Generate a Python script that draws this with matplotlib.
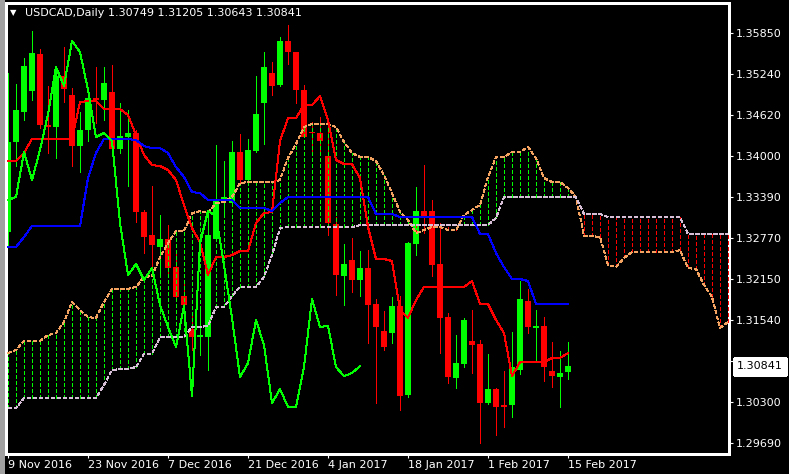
import matplotlib
matplotlib.use("Agg")
import matplotlib.pyplot as plt
import matplotlib.transforms as mtransforms
from matplotlib.patches import Rectangle
from matplotlib.lines import Line2D

# USDCAD daily bars, 9 Nov 2016 .. 15 Feb 2017 (one entry per trading day)
opens = [1.32860, 1.34214, 1.34666, 1.34982, 1.35538, 1.34470, 1.34440, 1.35207, 1.34922, 1.34154,
         1.34395, 1.34876, 1.34846, 1.34967, 1.34109, 1.34290, 1.34350, 1.33161, 1.32815, 1.32634,
         1.32755, 1.32333, 1.31897, 1.31401, 1.31280, 1.31280, 1.32755, 1.33341, 1.33296, 1.34064,
         1.33642, 1.34079, 1.34801, 1.35253, 1.35072, 1.35734, 1.35569, 1.34997, 1.34365, 1.34350,
         1.34004, 1.32980, 1.32198, 1.32439, 1.32138, 1.32318, 1.31777, 1.31371, 1.31340, 1.31747,
         1.30407, 1.32679, 1.33176, 1.33176, 1.32378, 1.31581, 1.30663, 1.30874, 1.31220, 1.31175,
         1.30287, 1.30498, 1.30257, 1.30257, 1.30783, 1.31822, 1.31416, 1.31446, 1.30768, 1.30678,
         1.30749]
highs = [1.35253, 1.35087, 1.35478, 1.35885, 1.35614, 1.35057, 1.35328, 1.35644, 1.35027, 1.34666,
         1.34952, 1.35343, 1.35343, 1.35373, 1.34801, 1.34696, 1.34395, 1.33191, 1.33552, 1.33116,
         1.32965, 1.32544, 1.32108, 1.31611, 1.31686, 1.33161, 1.34169, 1.33928, 1.34229, 1.34335,
         1.34260, 1.35207, 1.35569, 1.35418, 1.35794, 1.35975, 1.35569, 1.35072, 1.34515, 1.34590,
         1.34560, 1.33086, 1.32679, 1.32770, 1.32574, 1.32589, 1.31852, 1.31671, 1.31882, 1.31897,
         1.32709, 1.33537, 1.33868, 1.33341, 1.32995, 1.31641, 1.31310, 1.31566, 1.31686, 1.31235,
         1.31024, 1.30513, 1.30768, 1.31356, 1.32123, 1.32003, 1.31686, 1.31581, 1.31205, 1.31069,
         1.31205]
lows = [1.32664, 1.33853, 1.34545, 1.34846, 1.34425, 1.34049, 1.33974, 1.34816, 1.33853, 1.33763,
        1.34229, 1.34500, 1.34545, 1.34049, 1.34049, 1.33552, 1.33010, 1.32544, 1.32333, 1.32243,
        1.32243, 1.31867, 1.31656, 1.31084, 1.31009, 1.30783, 1.32739, 1.33086, 1.33266, 1.33567,
        1.33627, 1.34064, 1.34184, 1.34922, 1.35057, 1.35388, 1.34801, 1.34290, 1.34064, 1.34064,
        1.32815, 1.31912, 1.31762, 1.31957, 1.31897, 1.31190, 1.30287, 1.31084, 1.31190, 1.30181,
        1.30377, 1.32514, 1.32845, 1.32198, 1.31039, 1.30588, 1.30513, 1.30829, 1.30738, 1.29685,
        1.30272, 1.29805, 1.29926, 1.30076, 1.30723, 1.31340, 1.30919, 1.30618, 1.30528, 1.30227,
        1.30643]
closes = [1.34214, 1.34696, 1.35358, 1.35554, 1.34470, 1.34440, 1.35207, 1.35012, 1.34154, 1.34395,
          1.34876, 1.34846, 1.35102, 1.34109, 1.34305, 1.34350, 1.33161, 1.32785, 1.32664, 1.32755,
          1.32318, 1.31882, 1.31762, 1.31280, 1.31310, 1.32815, 1.33341, 1.33387, 1.34064, 1.33642,
          1.34094, 1.34636, 1.35343, 1.35057, 1.35734, 1.35569, 1.34997, 1.34290, 1.34350, 1.34229,
          1.32995, 1.32213, 1.32378, 1.32138, 1.32318, 1.31762, 1.31431, 1.31130, 1.31747, 1.30392,
          1.32694, 1.33176, 1.33101, 1.32363, 1.31566, 1.30678, 1.30889, 1.31536, 1.31160, 1.30287,
          1.30498, 1.30227, 1.30227, 1.30829, 1.31852, 1.31431, 1.31446, 1.30829, 1.30693, 1.30738,
          1.30841]

# Ichimoku lines
tenkan = [1.33928, 1.33928, 1.34049, 1.34260, 1.34260, 1.34260, 1.34260, 1.34260, 1.34260, 1.34816,
          1.34831, 1.34831, 1.34711, 1.34711, 1.34711, 1.34621, 1.34320, 1.34019, 1.33868, 1.33853,
          1.33793, 1.33642, 1.33266, 1.32920, 1.32709, 1.32213, 1.32484, 1.32484, 1.32514, 1.32574,
          1.32574, 1.32995, 1.33146, 1.33161, 1.34229, 1.34575, 1.34575, 1.34771, 1.34771, 1.34906,
          1.34545, 1.33943, 1.33883, 1.33883, 1.33673, 1.32935, 1.32454, 1.32454, 1.32424, 1.31686,
          1.31566, 1.31837, 1.32033, 1.32033, 1.32033, 1.32033, 1.32033, 1.32033, 1.32123, 1.31777,
          1.31777, 1.31536, 1.31340, 1.30693, 1.30904, 1.30904, 1.30904, 1.30904, 1.30964, 1.30964,
          1.31039]
kijun = [1.32634, 1.32634, 1.32785, 1.32950, 1.32950, 1.32950, 1.32950, 1.32950, 1.32950, 1.32950,
         1.33673, 1.34049, 1.34260, 1.34260, 1.34260, 1.34260, 1.34244, 1.34154, 1.34124, 1.34124,
         1.34049, 1.33838, 1.33688, 1.33462, 1.33447, 1.33341, 1.33341, 1.33341, 1.33341, 1.33221,
         1.33221, 1.33221, 1.33221, 1.33176, 1.33296, 1.33387, 1.33387, 1.33387, 1.33387, 1.33387,
         1.33387, 1.33387, 1.33387, 1.33387, 1.33387, 1.33387, 1.33131, 1.33131, 1.33131, 1.33086,
         1.33086, 1.33086, 1.33086, 1.33086, 1.33086, 1.33086, 1.33086, 1.33086, 1.33086, 1.32830,
         1.32830, 1.32544, 1.32333, 1.32153, 1.32153, 1.32123, 1.31777, 1.31777, 1.31777, 1.31777,
         1.31777]
span_a = [1.31039, 1.31084, 1.31220, 1.31220, 1.31220, 1.31310, 1.31340, 1.31506, 1.31807, 1.31686,
          1.31581, 1.31566, 1.31807, 1.32003, 1.32003, 1.32003, 1.32033, 1.32183, 1.32198, 1.32484,
          1.32694, 1.32875, 1.32875, 1.33146, 1.33176, 1.33146, 1.33296, 1.33311, 1.33387, 1.33597,
          1.33612, 1.33612, 1.33612, 1.33612, 1.33642, 1.33974, 1.34184, 1.34440, 1.34485, 1.34485,
          1.34485, 1.34440, 1.34214, 1.34049, 1.33989, 1.33989, 1.33928, 1.33718, 1.33447, 1.33161,
          1.33040, 1.32845, 1.32890, 1.32935, 1.32935, 1.32890, 1.32890, 1.33116, 1.33191, 1.33266,
          1.33688, 1.33989, 1.33989, 1.34064, 1.34064, 1.34139, 1.33974, 1.33673, 1.33612, 1.33612,
          1.33522, 1.33387, 1.32800, 1.32800, 1.32785, 1.32363, 1.32333, 1.32469, 1.32559, 1.32559,
          1.32559, 1.32559, 1.32559, 1.32559, 1.32589, 1.32318, 1.32303, 1.32063, 1.31882, 1.31416,
          1.31506]
span_b = [1.30212, 1.30212, 1.30362, 1.30362, 1.30362, 1.30362, 1.30362, 1.30362, 1.30362, 1.30362,
          1.30362, 1.30362, 1.30558, 1.30783, 1.30799, 1.30799, 1.30829, 1.31024, 1.31024, 1.31280,
          1.31280, 1.31280, 1.31280, 1.31431, 1.31431, 1.31446, 1.31732, 1.31732, 1.31897, 1.32033,
          1.32033, 1.32033, 1.32183, 1.32514, 1.32920, 1.32935, 1.32935, 1.32935, 1.32935, 1.32935,
          1.32935, 1.32935, 1.32935, 1.32935, 1.32965, 1.32965, 1.32965, 1.32965, 1.32965, 1.32965,
          1.32965, 1.32965, 1.32965, 1.32965, 1.32965, 1.32965, 1.32965, 1.32965, 1.32965, 1.32965,
          1.32965, 1.33071, 1.33387, 1.33387, 1.33387, 1.33387, 1.33387, 1.33387, 1.33387, 1.33387,
          1.33387, 1.33387, 1.33131, 1.33131, 1.33131, 1.33086, 1.33086, 1.33086, 1.33086, 1.33086,
          1.33086, 1.33086, 1.33086, 1.33086, 1.33086, 1.32830, 1.32830, 1.32830, 1.32830, 1.32830,
          1.32830]

date_pos = [0, 10, 20, 30, 40, 50, 60, 70]
date_labels = ["9 Nov 2016", "23 Nov 2016", "7 Dec 2016", "21 Dec 2016",
               "4 Jan 2017", "18 Jan 2017", "1 Feb 2017", "15 Feb 2017"]
price_ticks = [1.35850, 1.35240, 1.34620, 1.34000, 1.33390, 1.32770,
               1.32150, 1.31540, 1.30920, 1.30300, 1.29690]
last_price = 1.30841
shift = 26  # chikou span lag

plt.rcParams['font.family'] = ['DejaVu Sans']
plt.rcParams['lines.antialiased'] = False
plt.rcParams['patch.antialiased'] = False
plt.rcParams['lines.scale_dashes'] = False

W, H = 791, 474
fig = plt.figure(figsize=(W / 100, H / 100), dpi=100, facecolor="black")
ax = fig.add_axes([6 / W, 20 / H, 723 / W, 451 / H])
ax.set_facecolor("black")

n = len(closes)
xs = list(range(n))
dash = (0, (2.6, 1.5))
lw = 0.72  # one pixel

# candles
bull = [c >= o for o, c in zip(opens, closes)]
ccol = ["#00FF00" if b else "#FF0000" for b in bull]
ax.vlines(xs, lows, highs, colors=ccol, lw=lw, zorder=2)
bottoms = [min(o, c) for o, c in zip(opens, closes)]
heights = [max(abs(c - o), 0.00015) for o, c in zip(opens, closes)]
ax.bar(xs, heights, bottom=bottoms, width=0.66, color=ccol, linewidth=0, zorder=2)

# kumo
cx = list(range(len(span_a)))
lo = [min(a, b) for a, b in zip(span_a, span_b)]
hi = [max(a, b) for a, b in zip(span_a, span_b)]
kcol = ["#00FF00" if a >= b else "#FF0000" for a, b in zip(span_a, span_b)]
ax.vlines(cx, lo, hi, colors=kcol, linestyles=[dash], lw=lw, zorder=3)
ax.plot(cx, span_a, color="#F4A460", ls=dash, lw=lw, zorder=3)
ax.plot(cx, span_b, color="#D8BFD8", ls=dash, lw=lw, zorder=3)

# tenkan / kijun / chikou
ax.plot(xs, tenkan, color="#FF0000", lw=lw, zorder=4)
ax.plot(xs, kijun, color="#0000FF", lw=lw, zorder=4)
ax.plot(xs[:n - shift], closes[shift:], color="#00FF00", lw=lw, zorder=4)

ax.set_xlim(-0.25, 90.125)
ax.set_ylim(1.29520, 1.36306)

for s in ax.spines.values():
    s.set_color("white")
    s.set_linewidth(1)

ax.yaxis.tick_right()
ax.set_yticks(price_ticks)
ax.set_yticklabels(["%.5f" % p for p in price_ticks])
ax.tick_params(axis="y", colors="white", length=3, width=0.8, pad=2, labelsize=8)
ax.set_xticks(date_pos)
ax.set_xticklabels(date_labels, ha="left")
ax.tick_params(axis="x", colors="white", length=3, width=0.8, pad=1.5, labelsize=8)

# last price marker on the scale
tr = mtransforms.blended_transform_factory(ax.transAxes, ax.transData)
ax.text(1 + 8 / 723, last_price, "%.5f" % last_price, transform=tr, ha="left", va="center",
        fontsize=8, color="black", clip_on=False, zorder=10,
        bbox=dict(boxstyle="square,pad=0.3", fc="white", ec="white"))

# header
fig.text(10 / W, 1 - 13 / H, "\u25bc", color="white", fontsize=6, va="center")
fig.text(25 / W, 1 - 13 / H, "USDCAD,Daily", color="white", fontsize=8, va="center")
fig.text(108 / W, 1 - 13 / H, "1.30749 1.31205 1.30643 1.30841", color="white", fontsize=8, va="center")

# window borders
fig.patches.append(Rectangle((0, 0), 3 / W, 1, transform=fig.transFigure, color="#A0A0A0"))
fig.lines.append(Line2D([789.5 / W, 789.5 / W], [0, 1], transform=fig.transFigure, color="white", lw=1))

fig.savefig("out.png", dpi=100, facecolor="black")
